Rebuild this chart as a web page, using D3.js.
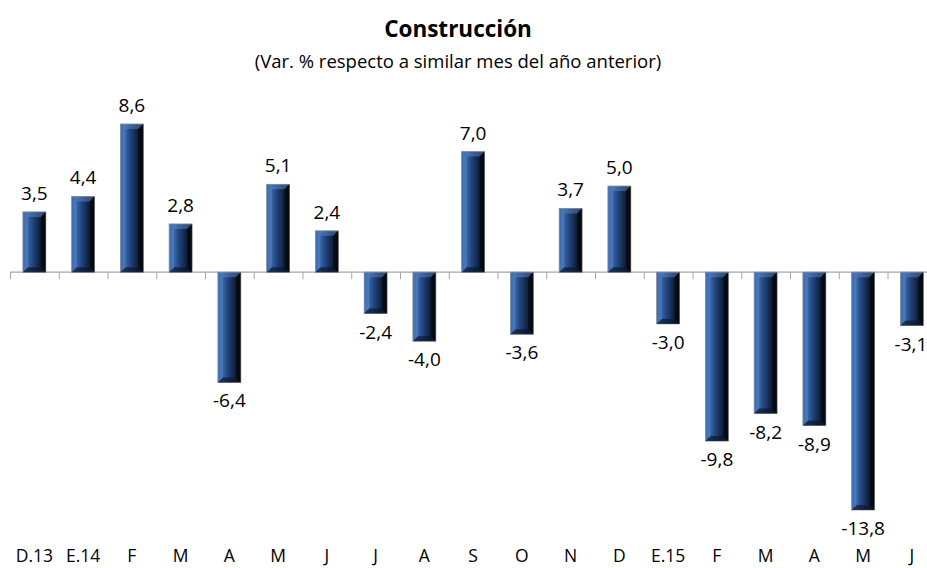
<!DOCTYPE html>
<html>
<head>
<meta charset="utf-8">
<script src="https://cdn.jsdelivr.net/npm/d3@7"></script>
<style>
  body { margin: 0; background: #fff; }
  svg { display: block; font-family: "Open Sans", Lato, sans-serif; }
</style>
</head>
<body>
<div id="chart"></div>
<script>
const categories = ["D.13", "E.14", "F", "M", "A", "M", "J", "J", "A", "S", "O", "N", "D", "E.15", "F", "M", "A", "M", "J"];
const values = [3.5, 4.4, 8.6, 2.8, -6.4, 5.1, 2.4, -2.4, -4.0, 7.0, -3.6, 3.7, 5.0, -3.0, -9.8, -8.2, -8.9, -13.8, -3.1];
const title = "Construcción";
const subtitle = "(Var. % respecto a similar mes del año anterior)";

const W = 927, H = 568;
const svg = d3.select("#chart").append("svg").attr("width", W).attr("height", H);

const x = d3.scaleBand().domain(d3.range(categories.length))
  .range([10, 10 + 19 * 48.75]).paddingInner(0.53).paddingOuter(0.265);
const step = x.step();
const y = d3.scaleLinear().domain([-13.8, 8.6]).range([510, 124]);

// bar gradient (Excel-like bevel look)
const defs = svg.append("defs");
const grad = defs.append("linearGradient").attr("id", "barGrad").attr("x1", 0).attr("x2", 1).attr("y1", 0).attr("y2", 0);
[["0%", "#2a5596"], ["18%", "#3a6aae"], ["42%", "#214680"], ["70%", "#112548"], ["100%", "#050b17"]]
  .forEach(([o, c]) => grad.append("stop").attr("offset", o).attr("stop-color", c));

svg.append("text").attr("x", 458).attr("y", 37).attr("text-anchor", "middle")
  .attr("font-weight", "bold").attr("font-size", 22.5).attr("fill", "#000").text(title);
svg.append("text").attr("x", 458).attr("y", 68).attr("text-anchor", "middle")
  .attr("font-size", 18.5).attr("fill", "#000").text(subtitle);

// axis line + ticks
const y0 = y(0);
svg.append("line").attr("x1", 10).attr("x2", W).attr("y1", y0).attr("y2", y0)
  .attr("stroke", "#a6a6a6").attr("stroke-width", 1.2);
svg.append("g").selectAll("line").data(d3.range(categories.length + 1)).join("line")
  .attr("x1", (i) => 10 + i * step + 0.5).attr("x2", (i) => 10 + i * step + 0.5)
  .attr("y1", y0).attr("y2", y0 + 7)
  .attr("stroke", "#a6a6a6").attr("stroke-width", 1);

const bars = svg.append("g").selectAll("g").data(values).join("g");
const bw = x.bandwidth(), bv = 5;

bars.each(function (v, i) {
  const g = d3.select(this);
  const x0 = x(i), x1 = x0 + bw;
  const top = Math.min(y(v), y0), bot = Math.max(y(v), y0);
  g.append("rect").attr("x", x0).attr("y", top).attr("width", bw).attr("height", bot - top)
    .attr("fill", "url(#barGrad)").attr("stroke", "#8c8c8c").attr("stroke-width", 0.8);
  const b = Math.min(bv, (bot - top) / 2);
  // bevel edges
  g.append("polygon").attr("points", [[x0, top], [x1, top], [x1 - b, top + b], [x0 + b, top + b]].join(" "))
    .attr("fill", "#5b86c4").attr("opacity", 0.5);
  g.append("polygon").attr("points", [[x0, bot], [x1, bot], [x1 - b, bot - b], [x0 + b, bot - b]].join(" "))
    .attr("fill", "#0a1830").attr("opacity", 0.7);
  g.append("polygon").attr("points", [[x0, top], [x0 + b, top + b], [x0 + b, bot - b], [x0, bot]].join(" "))
    .attr("fill", "#6f9ad6").attr("opacity", 0.3);
  g.append("polygon").attr("points", [[x1, top], [x1 - b, top + b], [x1 - b, bot - b], [x1, bot]].join(" "))
    .attr("fill", "#000").attr("opacity", 0.5);
});

// value labels
svg.append("g").selectAll("text").data(values).join("text")
  .attr("x", (v, i) => Math.min(x(i) + bw / 2, 911))
  .attr("y", (v) => v >= 0 ? y(v) - 12 : y(v) + 25)
  .attr("text-anchor", "middle").attr("font-size", 19).attr("fill", "#000")
  .text((v) => d3.format(".1f")(v).replace(".", ",").replace("−", "-"));

// category labels
svg.append("g").selectAll("text").data(categories).join("text")
  .attr("x", (c, i) => x(i) + bw / 2).attr("y", 562)
  .attr("text-anchor", "middle").attr("font-size", 17.5).attr("fill", "#000")
  .text((c) => c);
</script>
</body>
</html>
